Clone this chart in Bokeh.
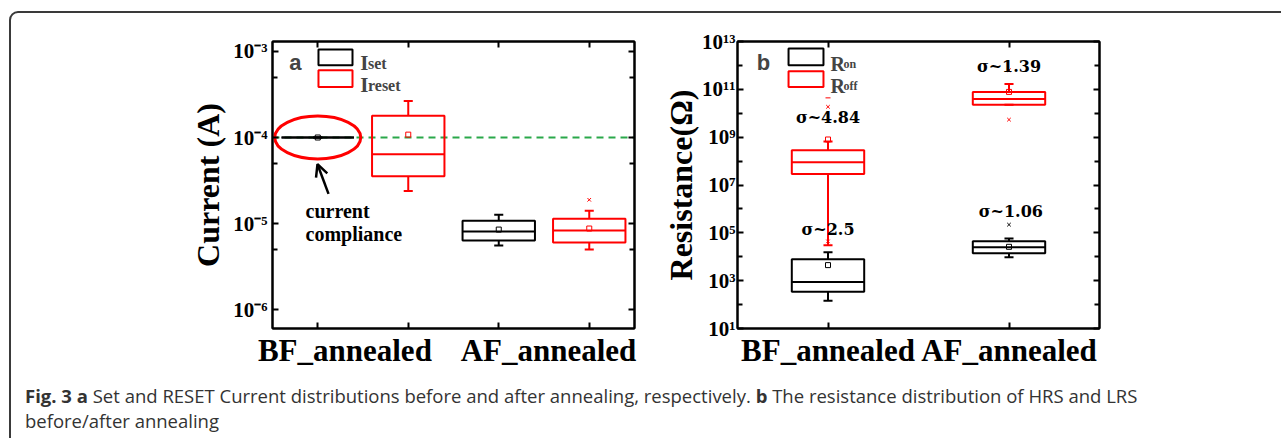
from bokeh.plotting import figure
from bokeh.models import (Range1d, FixedTicker, LinearAxis, LogAxis, Span, Label,
                          Arrow, OpenHead, ColumnDataSource, Div)
from bokeh.layouts import row, column
from bokeh.embed import file_html
from bokeh.resources import INLINE

# ---------------- panel a data : current (A) ----------------
a_positions = [1, 2, 3, 4]
a_colors = ["black", "red", "black", "red"]
a_q1 = [1.0e-4, 3.56e-5, 6.38e-6, 6.05e-6]
a_median = [1.0e-4, 6.38e-5, 8.09e-6, 8.32e-6]
a_q3 = [1.0e-4, 1.79e-4, 1.08e-5, 1.14e-5]
a_low = [1.0e-4, 2.39e-5, 5.58e-6, 5.02e-6]
a_high = [1.0e-4, 2.66e-4, 1.27e-5, 1.41e-5]
a_mean = [1.0e-4, 1.08e-4, 8.53e-6, 8.77e-6]
a_out_x = [4]
a_out_y = [1.89e-5]
compliance = 1e-4
a_group_labels = ["BF_annealed", "AF_annealed"]
a_yticks = [1e-6, 1e-5, 1e-4, 1e-3]
a_ytick_labels = ["10\u207b\u2076", "10\u207b\u2075", "10\u207b\u2074", "10\u207b\u00b3"]
a_yminor = [5e-6, 5e-5, 5e-4]

# ---------------- panel b data : resistance (ohm) ----------------
b_positions = [1, 2]
b_group_labels = ["BF_annealed", "AF_annealed"]
ron_q1 = [340, 1.4e4]
ron_median = [883, 2.48e4]
ron_q3 = [7.9e3, 4.4e4]
ron_low = [145, 9.5e3]
ron_high = [1.54e4, 5.85e4]
ron_mean = [4.47e3, 2.6e4]
roff_q1 = [2.86e7, 2.24e10]
roff_median = [8.95e7, 3.98e10]
roff_q3 = [2.81e8, 7.8e10]
roff_low = [3.0e4, 2.24e10]
roff_high = [6.62e8, 1.66e11]
roff_mean = [8.0e8, 7.8e10]
ron_out_x = [2]
ron_out_y = [2.2e5]
roff_out_x = [1, 1, 2, 2]
roff_out_y = [1.86e10, 4.4e4, 5.4e9, 6.3e11]
roff_dash_x = [1]
roff_dash_y = [4.4e10]
b_yticks = [1e1, 1e3, 1e5, 1e7, 1e9, 1e11, 1e13]
b_ytick_labels = ["10\u00b9", "10\u00b3", "10\u2075", "10\u2077", "10\u2079", "10\u00b9\u00b9", "10\u00b9\u00b3"]
b_yminor = [1e2, 1e4, 1e6, 1e8, 1e10, 1e12]
sigma_labels = ["\u03c3~2.5", "\u03c3~1.06", "\u03c3~4.84", "\u03c3~1.39"]

SERIF = "Liberation Serif"
GREEN = "#2aa84a"


def draw_boxes(p, xs, q1, med, q3, lo, hi, mean, colors, width, cap):
    src = ColumnDataSource(dict(
        x=xs, left=[x - width / 2 for x in xs], right=[x + width / 2 for x in xs],
        cl=[x - cap / 2 for x in xs], cr=[x + cap / 2 for x in xs],
        q1=q1, med=med, q3=q3, lo=lo, hi=hi, mean=mean, color=colors))
    kw = dict(source=src, line_color="color", line_width=2)
    p.segment(x0="x", y0="q3", x1="x", y1="hi", **kw)
    p.segment(x0="x", y0="q1", x1="x", y1="lo", **kw)
    p.segment(x0="cl", y0="hi", x1="cr", y1="hi", **kw)
    p.segment(x0="cl", y0="lo", x1="cr", y1="lo", **kw)
    p.quad(left="left", right="right", top="q3", bottom="q1", fill_color=None, **kw)
    p.segment(x0="left", y0="med", x1="right", y1="med", **kw)
    p.scatter(x="x", y="mean", marker="square", size=5, fill_color=None,
              line_color="color", line_width=1, source=src)


def style_axis(ax, tick_len=6, minor_len=5, size="21px"):
    ax.axis_line_width = 2
    ax.axis_line_color = "black"
    ax.major_tick_in = tick_len
    ax.major_tick_out = 0
    ax.minor_tick_in = minor_len
    ax.minor_tick_out = 0
    ax.major_tick_line_width = 2
    ax.minor_tick_line_width = 2
    ax.major_label_text_font = SERIF
    ax.major_label_text_font_style = "bold"
    ax.major_label_text_color = "black"
    ax.major_label_text_font_size = size
    ax.axis_label_text_font = SERIF
    ax.axis_label_text_font_style = "bold"
    ax.axis_label_text_font_size = "32px"
    ax.axis_label_text_color = "black"


def mirror_axis(ax, ticks):
    style_axis(ax)
    ax.major_label_overrides = {t: "" for t in ticks}
    ax.major_label_text_color = None
    ax.major_label_standoff = 0


def base_fig(width, xr, yr, left, right):
    p = figure(width=width, height=370, x_range=xr, y_range=yr, y_axis_type="log",
               output_backend="svg", toolbar_location=None,
               min_border_left=left, min_border_right=right,
               min_border_top=41, min_border_bottom=39)
    p.xgrid.grid_line_color = None
    p.ygrid.grid_line_color = None
    p.outline_line_color = "black"
    p.outline_line_width = 2
    p.outline_line_alpha = 1
    p.background_fill_color = "white"
    p.border_fill_color = "white"
    return p


# ======================= panel a =======================
pa = base_fig(655, Range1d(0.5, 4.5), Range1d(10 ** -6.218, 10 ** -2.885), 272, 21)

xa = pa.xaxis[0]
xa.ticker = FixedTicker(ticks=[1.3, 3.55], minor_ticks=a_positions)
xa.major_label_overrides = {1.3: a_group_labels[0], 3.55: a_group_labels[1]}
style_axis(xa, tick_len=0, minor_len=6, size="31px")
xa.major_label_standoff = 4

ya = pa.yaxis[0]
ya.ticker = FixedTicker(ticks=a_yticks, minor_ticks=a_yminor)
ya.major_label_overrides = dict(zip(a_yticks, a_ytick_labels))
style_axis(ya)
ya.major_label_standoff = 5
ya.axis_label = "Current (A)"
ya.axis_label_standoff = 4

top_a = LinearAxis(ticker=FixedTicker(ticks=a_positions, minor_ticks=[]))
mirror_axis(top_a, a_positions)
pa.add_layout(top_a, "above")
right_a = LogAxis(ticker=FixedTicker(ticks=a_yticks, minor_ticks=a_yminor))
mirror_axis(right_a, a_yticks)
pa.add_layout(right_a, "right")

pa.add_layout(Span(location=compliance, dimension="width", line_color=GREEN,
                   line_dash="7 5", line_width=2, level="underlay"))

draw_boxes(pa, a_positions, a_q1, a_median, a_q3, a_low, a_high, a_mean,
           a_colors, 0.8, 0.1)
pa.scatter(x=a_out_x, y=a_out_y, marker="x", size=5, line_color="red", line_width=1)

# compliance ellipse + arrow + note
pa.ellipse(x=[a_positions[0]], y=[compliance], width=86, height=43,
           width_units="screen", height_units="screen",
           fill_color=None, line_color="red", line_width=3)
pa.add_layout(Arrow(end=OpenHead(size=12, line_width=2.5, line_color="black"),
                    x_start=1.119, y_start=10 ** -4.655, x_end=0.997, y_end=10 ** -4.31,
                    line_width=2.5, line_color="black"))
for txt, yy in [("current", -4.851), ("compliance", -5.115)]:
    pa.add_layout(Label(x=0.865, y=10 ** yy, text=txt, text_font=SERIF,
                        text_font_style="bold", text_font_size="20px",
                        text_align="left", text_baseline="middle", text_color="black"))

# panel letter + legend
pa.add_layout(Label(x=0.754, y=10 ** -3.126, text="a", text_font="Liberation Sans",
                    text_font_style="bold", text_font_size="22px",
                    text_align="center", text_baseline="middle"))
pa.quad(left=[1.008, 1.008], right=[1.384, 1.384],
        top=[10 ** -2.977, 10 ** -3.218], bottom=[10 ** -3.161, 10 ** -3.414],
        fill_color=None, line_color=["black", "red"], line_width=2)
for big, small, yy in [("I", "set", -3.138), ("I", "reset", -3.391)]:
    pa.add_layout(Label(x=1.47, y=10 ** yy, text=big, text_font=SERIF, text_font_style="bold",
                        text_font_size="21px", text_align="left", text_baseline="alphabetic"))
    pa.add_layout(Label(x=1.555, y=10 ** yy, text=small, text_font=SERIF, text_font_style="bold",
                        text_font_size="16px", text_align="left", text_baseline="alphabetic"))

# ======================= panel b =======================
pb = base_fig(626, Range1d(0.5, 2.5), Range1d(1e1, 1e13), 82, 182)

xb = pb.xaxis[0]
xb.ticker = FixedTicker(ticks=b_positions, minor_ticks=[])
xb.major_label_overrides = dict(zip(b_positions, b_group_labels))
style_axis(xb, size="31px")
xb.major_label_standoff = 4

yb = pb.yaxis[0]
yb.ticker = FixedTicker(ticks=b_yticks, minor_ticks=b_yminor)
yb.major_label_overrides = dict(zip(b_yticks, b_ytick_labels))
style_axis(yb)
yb.major_label_standoff = 2
yb.axis_label = "Resistance(\u03a9)"
yb.axis_label_standoff = 0

top_b = LinearAxis(ticker=FixedTicker(ticks=b_positions, minor_ticks=[]))
mirror_axis(top_b, b_positions)
pb.add_layout(top_b, "above")
right_b = LogAxis(ticker=FixedTicker(ticks=b_yticks, minor_ticks=b_yminor))
mirror_axis(right_b, b_yticks)
pb.add_layout(right_b, "right")

draw_boxes(pb, b_positions, ron_q1, ron_median, ron_q3, ron_low, ron_high, ron_mean,
           ["black", "black"], 0.4, 0.05)
draw_boxes(pb, b_positions, roff_q1, roff_median, roff_q3, roff_low, roff_high, roff_mean,
           ["red", "red"], 0.4, 0.05)
pb.scatter(x=ron_out_x, y=ron_out_y, marker="x", size=5, line_color="black", line_width=1)
pb.scatter(x=roff_out_x, y=roff_out_y, marker="x", size=5, line_color="red", line_width=1)
pb.scatter(x=roff_dash_x, y=roff_dash_y, marker="dash", size=5, line_color="red", line_width=1)

sig_x = [1.0, 2.01, 1.0, 2.0]
sig_y = [5.139, 5.884, 9.814, 11.966]
for t, sx, sy in zip(sigma_labels, sig_x, sig_y):
    pb.add_layout(Label(x=sx, y=10 ** sy, text=t, text_font="DejaVu Serif",
                        text_font_style="bold", text_font_size="16px",
                        text_align="center", text_baseline="middle", text_color="black"))

pb.add_layout(Label(x=0.644, y=10 ** 12.131, text="b", text_font="Liberation Sans",
                    text_font_style="bold", text_font_size="22px",
                    text_align="center", text_baseline="middle"))
pb.quad(left=[0.782, 0.782], right=[0.975, 0.975],
        top=[10 ** 12.71, 10 ** 11.759], bottom=[10 ** 12.007, 10 ** 11.097],
        fill_color=None, line_color=["black", "red"], line_width=2)
for small, yy in [("on", 12.06), ("off", 11.15)]:
    pb.add_layout(Label(x=1.014, y=10 ** yy, text="R", text_font=SERIF, text_font_style="bold",
                        text_font_size="20px", text_align="left", text_baseline="alphabetic"))
    pb.add_layout(Label(x=1.085, y=10 ** yy, text=small, text_font=SERIF, text_font_style="bold",
                        text_font_size="12px", text_align="left", text_baseline="alphabetic"))

# ======================= caption =======================
caption = Div(
    text=('<div style="font-family:\'Open Sans\';font-size:18.5px;color:#333;'
          'padding-left:20px;padding-top:8px;line-height:25px;white-space:nowrap;">'
          '<b>Fig. 3 a</b> Set and RESET Current distributions before and after annealing, '
          'respectively. <b>b</b> The resistance distribution of HRS and LRS<br>'
          'before/after annealing</div>'),
    width=1281, height=68)

layout = column(row(pa, pb), caption)

border = ('<div style="position:fixed;left:9px;top:11px;width:1400px;height:600px;'
          'border:2px solid #3a3a3a;border-radius:9px;pointer-events:none;'
          'z-index:10;box-sizing:border-box"></div>')
open("out.html", "w").write(file_html(layout, INLINE).replace("</body>", border + "</body>"))
